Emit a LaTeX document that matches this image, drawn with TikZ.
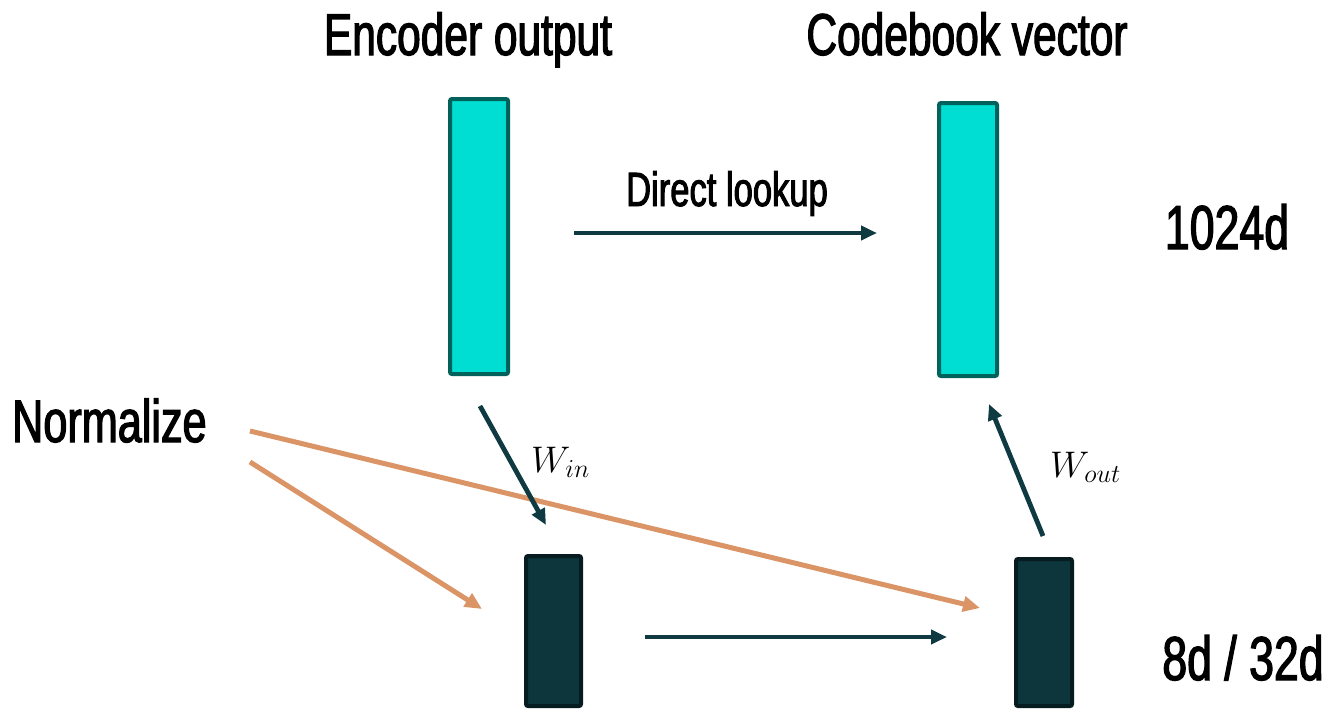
\RequirePackage{fix-cm}
\documentclass[tikz,border=0pt]{standalone}
\usepackage{fontspec}
\setmainfont[FakeStretch=0.72,FakeBold=2]{Liberation Sans}
\usetikzlibrary{arrows.meta}
\definecolor{tealfill}{HTML}{00DDD2}
\definecolor{tealedge}{HTML}{00625A}
\definecolor{deepfill}{HTML}{0D353C}
\definecolor{deepedge}{HTML}{061C20}
\definecolor{arrowc}{HTML}{0F3A42}
\definecolor{normc}{HTML}{DA9466}

\begin{document}
\begin{tikzpicture}[x=1pt,y=-1pt,
  widebox/.style={draw=tealedge, fill=tealfill, line width=4pt, rounded corners=2pt, inner sep=0pt},
  narrowbox/.style={draw=deepedge, fill=deepfill, line width=4pt, rounded corners=2pt, inner sep=0pt},
  flow/.style={draw=arrowc, line width=4.8pt, -{Triangle[length=16pt,width=14pt]}},
  norm/.style={draw=normc, line width=5pt, -{Triangle[length=17pt,width=15pt]}},
  title/.style={inner sep=0pt, anchor=base, font=\fontsize{59}{62}\selectfont},
  dimlabel/.style={inner sep=0pt, anchor=base, font=\fontsize{62}{65}\selectfont},
  wlabel/.style={inner sep=0pt, anchor=base west, font=\fontsize{37}{40}\selectfont}
]
\useasboundingbox (0,0) rectangle (1332,710);

% vectors
\node[widebox, minimum width=58pt, minimum height=275pt] (enc) at (479,236.5) {};
\node[widebox, minimum width=58pt, minimum height=273pt] (code) at (968,239.5) {};
\node[narrowbox, minimum width=55pt, minimum height=150pt] (lowin) at (553.5,631) {};
\node[narrowbox, minimum width=56pt, minimum height=147pt] (lowout) at (1044,632.5) {};

% headings and labels
\node[title] (enctitle) at (468,55) {Encoder output};
\node[title] (codetitle) at (967,55) {Codebook vector};
\node[inner sep=0pt, anchor=base, font=\fontsize{48}{50}\selectfont] (lookup) at (727,206) {Direct lookup};
\node[inner sep=0pt, anchor=base west, font=\fontsize{60}{65}\selectfont] (normtext) at (12,442) {Normalize};
\node[dimlabel] (big) at (1227,249) {1024d};
\node[dimlabel] (small) at (1243,680) {8d / 32d};
\node[wlabel] (win) at (531,472) {$W_{in}$};
\node[wlabel] (wout) at (1050,477) {$W_{out}$};

% arrow ends
\coordinate (lookA) at (574,233);
\coordinate (lookB) at (877,233);
\coordinate (lowA) at (645,637);
\coordinate (lowB) at (947,637);
\coordinate (inA) at (480,406);
\coordinate (inB) at (546,525);
\coordinate (outA) at (1043,536);
\coordinate (outB) at (989,404);
\coordinate (nA) at (250,431);
\coordinate (nB) at (980,608);
\coordinate (nC) at (250,462);
\coordinate (nD) at (482,609);

% connectors
\draw[norm] (nA) -- (nB);
\draw[norm] (nC) -- (nD);
\draw[flow] (lookA) -- (lookB);
\draw[flow] (lowA) -- (lowB);
\draw[flow] (inA) -- (inB);
\draw[flow] (outA) -- (outB);
\end{tikzpicture}
\end{document}
